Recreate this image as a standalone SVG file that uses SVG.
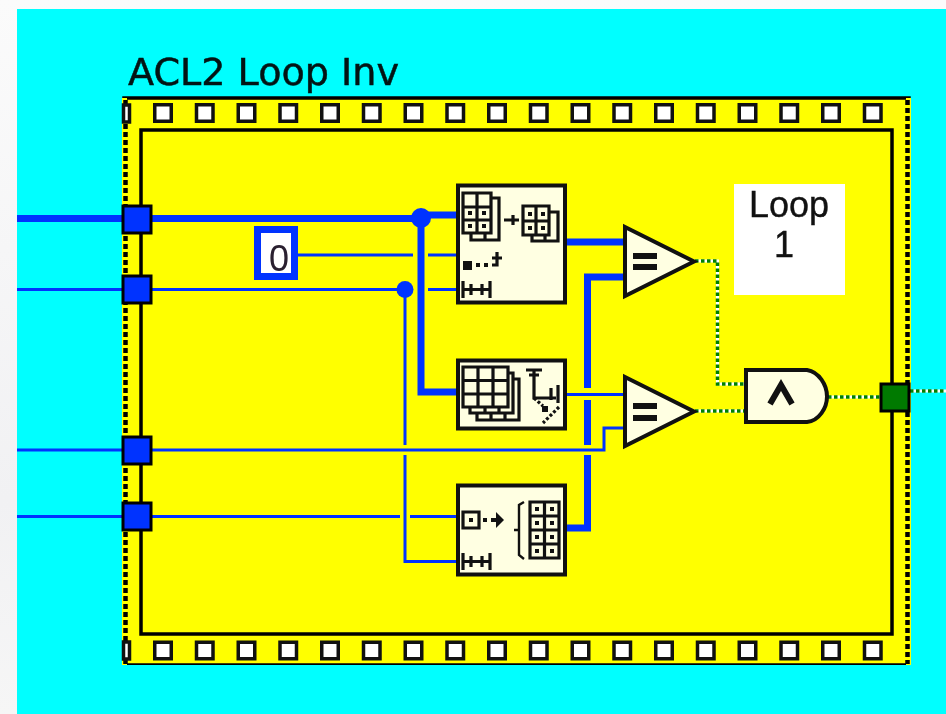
<svg xmlns="http://www.w3.org/2000/svg" width="946" height="714" viewBox="0 0 946 714">
<style>
.fr{fill:#ffff00;stroke:#000;stroke-width:3.5}
.edge{fill:none;stroke:#000;stroke-width:4.500;stroke-dasharray:5 3}
.sp{fill:#fff;stroke:#111;stroke-width:3.5}
.w{fill:none;stroke:#0033ff;stroke-width:3;stroke-linejoin:miter}
.t{fill:none;stroke:#0033ff;stroke-width:7;stroke-linejoin:miter}
.gb{fill:none;stroke:#fff;stroke-width:3}
.gd{fill:none;stroke:#008000;stroke-width:3.500;stroke-dasharray:3.500 2.500}
.term{stroke:#000;stroke-width:3;fill:#0033ff}
.box{fill:#ffffe2;stroke:#111;stroke-width:4}
.ic{fill:none;stroke:#111;stroke-width:3.2}
.ib{fill:#111;stroke:none}
.lbl{font-family:"Liberation Sans",Arial,sans-serif;font-size:36px;fill:#111;stroke:#111;stroke-width:.4;text-anchor:middle}
</style>
<defs>
<linearGradient id="bgg" x1="0" y1="0" x2="0" y2="1"><stop offset="0" stop-color="#fbfbfb"/><stop offset="0.7" stop-color="#f1f1f3"/><stop offset="1" stop-color="#f6f6f6"/></linearGradient>
<filter id="soft" x="0" y="0" width="100%" height="100%" color-interpolation-filters="sRGB"><feGaussianBlur stdDeviation="0.75"/></filter>
<rect id="s" x="1.750" y="1.750" width="16.500" height="16.500" class="sp"/>
<g id="range"><path class="ic" d="M463,0V17M490,0V17M463,8.500H490M471,3V14M482,3V14"/></g>
</defs>
<rect width="946" height="714" fill="url(#bgg)"/>
<rect x="17" y="9" width="929" height="705" fill="#00ffff"/>
<g filter="url(#soft)">
<text id="title" x="128" y="85" font-family="'DejaVu Sans',Verdana,sans-serif" font-size="37" fill="#031414" stroke="#031414" stroke-width=".5" textLength="271" lengthAdjust="spacingAndGlyphs">ACL2 Loop Inv</text>
<g id="loop-frame">
<rect class="fr" x="124" y="98" width="785" height="567"/>
<path d="M124.500,98V665M908.500,98V665" stroke="#ffff00" stroke-width="5" fill="none"/>
<path class="edge" d="M125.500,100V664M907.500,100V664"/>
<rect x="141" y="130" width="751" height="504" fill="#ffff00" stroke="#000" stroke-width="3.500"/>
<rect x="123.500" y="105" width="6" height="17" class="sp"/>
<rect x="123.500" y="642" width="6" height="17" class="sp"/>
<g id="sprockets-top">
<use href="#s" x="153" y="103"/><use href="#s" x="194.750" y="103"/><use href="#s" x="236.500" y="103"/><use href="#s" x="278.250" y="103"/><use href="#s" x="320" y="103"/><use href="#s" x="361.750" y="103"/><use href="#s" x="403.500" y="103"/><use href="#s" x="445.250" y="103"/><use href="#s" x="487" y="103"/><use href="#s" x="528.750" y="103"/><use href="#s" x="570.500" y="103"/><use href="#s" x="612.250" y="103"/><use href="#s" x="654" y="103"/><use href="#s" x="695.750" y="103"/><use href="#s" x="737.500" y="103"/><use href="#s" x="779.250" y="103"/><use href="#s" x="821" y="103"/><use href="#s" x="862.750" y="103"/>
</g>
<g id="sprockets-bottom">
<use href="#s" x="153" y="640.500"/><use href="#s" x="194.750" y="640.500"/><use href="#s" x="236.500" y="640.500"/><use href="#s" x="278.250" y="640.500"/><use href="#s" x="320" y="640.500"/><use href="#s" x="361.750" y="640.500"/><use href="#s" x="403.500" y="640.500"/><use href="#s" x="445.250" y="640.500"/><use href="#s" x="487" y="640.500"/><use href="#s" x="528.750" y="640.500"/><use href="#s" x="570.500" y="640.500"/><use href="#s" x="612.250" y="640.500"/><use href="#s" x="654" y="640.500"/><use href="#s" x="695.750" y="640.500"/><use href="#s" x="737.500" y="640.500"/><use href="#s" x="779.250" y="640.500"/><use href="#s" x="821" y="640.500"/><use href="#s" x="862.750" y="640.500"/>
</g>
</g>
<g id="connectors">
<path class="t" d="M17,218.500H421V215H457"/>
<path class="t" d="M421,218V392H457"/>
<circle cx="421" cy="218" r="10" fill="#0033ff"/>
<path class="w" d="M298,255H413M428,255H457"/>
<path class="w" d="M17,289.500H413M428,289.500H457"/>
<circle cx="405" cy="289.500" r="8.500" fill="#0033ff"/>
<path class="w" d="M405,289V445M405,455V561.500H457"/>
<path class="w" d="M17,450H604V428H625"/>
<path class="w" d="M17,516.500H400M410,516.500H457"/>
<path class="t" d="M566,242H625"/>
<path class="t" d="M625,277H587.500V388M587.500,400V445M587.500,455V528H566"/>
<path class="w" d="M566,394.500H625"/>
<path class="gb" d="M695,261H717.500V384H745M695,411H745M828,397H881M910,391H946"/>
<path class="gd" d="M695,261H717.500V384H745M695,411H745M828,397H881M910,391H946"/>
</g>
<g id="term-1"><rect class="term" x="123" y="206" width="28" height="27"/></g>
<g id="term-2"><rect class="term" x="123" y="276" width="28" height="27"/></g>
<g id="term-3"><rect class="term" x="123" y="437" width="28" height="27"/></g>
<g id="term-4"><rect class="term" x="123" y="503" width="28" height="27"/></g>
<g id="term-out"><rect class="term" style="fill:#007a00" x="881" y="384" width="28" height="27"/></g>
<g id="const-0">
<rect x="257.500" y="229.500" width="37" height="47" fill="#fff" stroke="#0033ff" stroke-width="7"/>
<text x="279" y="271" font-family="'Liberation Sans',Arial,sans-serif" font-size="36" fill="#2a2030" text-anchor="middle">0</text>
</g>
<g id="node-subset">
<rect class="box" x="458" y="185.500" width="107" height="117"/>
<path class="ic" d="M463,193H491V233H463ZM477,193V233M463,207H491M463,220H491M491,198H499V240H471V233"/>
<path class="ic" d="M485,233V240"/>
<path class="ib" d="M468,211h4v4h-4zM482,211h4v4h-4zM468,224h4v4h-4zM482,224h4v4h-4z"/>
<path class="ic" d="M504,220H519M513,215V225"/>
<path class="ic" d="M523,206H549V235H523ZM536,206V235M523,221H549M549,212H558V241H532V235M545,235V241"/>
<path class="ib" d="M528,212h4v4h-4zM541,212h4v4h-4zM528,226h4v4h-4zM541,226h4v4h-4z"/>
<rect class="ib" x="463" y="261" width="9" height="9"/>
<path class="ib" d="M476,263h4v4h-4zM484,263h4v4h-4z"/>
<path class="ic" d="M492,265H497V255M492,258H502M497,252V258"/>
<use href="#range" y="281"/>
</g>
<g id="node-index">
<rect class="box" x="458" y="360.500" width="107" height="68"/>
<path class="ic" d="M463,367H508V407H463ZM478,367V407M493,367V407M463,380.500H508M463,394H508"/>
<path class="ic" d="M508,373H513V413H470V407M513,379H519V420H477V413M485,407V413M499,407V413M491,413V420M505,413V420"/>
<path class="ic" d="M526,370H542M529,375H539M534,370V398H556M558,385V403M551,388V400"/>
<path class="ic" stroke-dasharray="3 2" d="M534,398L543,406M559,407L543,423"/>
<rect class="ib" x="542" y="406" width="6" height="6"/>
</g>
<g id="node-build">
<rect class="box" x="458" y="485.500" width="107" height="89"/>
<path class="ic" d="M463,512H479V528H463Z"/>
<path class="ib" d="M469,518h4v4h-4zM483,518h4v4h-4zM491,518H496V512L504,520L496,528V522H491Z"/>
<path class="ic" style="stroke-width:2.400" d="M524,502L519,505V530H514M519,530V555L524,559"/>
<path class="ic" d="M530,502H559V558H530ZM544.500,502V558M530,516H559M530,530H559M530,544H559"/>
<path class="ib" d="M535,507h4v4h-4zM550,507h4v4h-4zM535,521h4v4h-4zM550,521h4v4h-4zM535,535h4v4h-4zM550,535h4v4h-4zM535,549h4v4h-4zM550,549h4v4h-4z"/>
<use href="#range" y="553"/>
</g>
<g id="eq-1">
<path class="box" d="M625,227L694,261.500L625,296Z"/>
<path class="ib" d="M633,253H657V259H633ZM633,264H657V270H633Z"/>
</g>
<g id="eq-2">
<path class="box" d="M625,377L694,411.500L625,446Z"/>
<path class="ib" d="M633,403H657V409H633ZM633,415H657V421H633Z"/>
</g>
<g id="and">
<path class="box" d="M746,370H807C819,372 827,385 827,396.500C827,408 819,421 807,422H746Z"/>
<path d="M770,404L781,385L792,404" fill="none" stroke="#111" stroke-width="6"/>
</g>
<g id="label-loop">
<rect x="734" y="184" width="111" height="111" fill="#fff"/>
<text class="lbl" x="789" y="217" textLength="80" lengthAdjust="spacingAndGlyphs">Loop</text>
<text class="lbl" x="784" y="257">1</text>
</g>
</g>
</svg>
